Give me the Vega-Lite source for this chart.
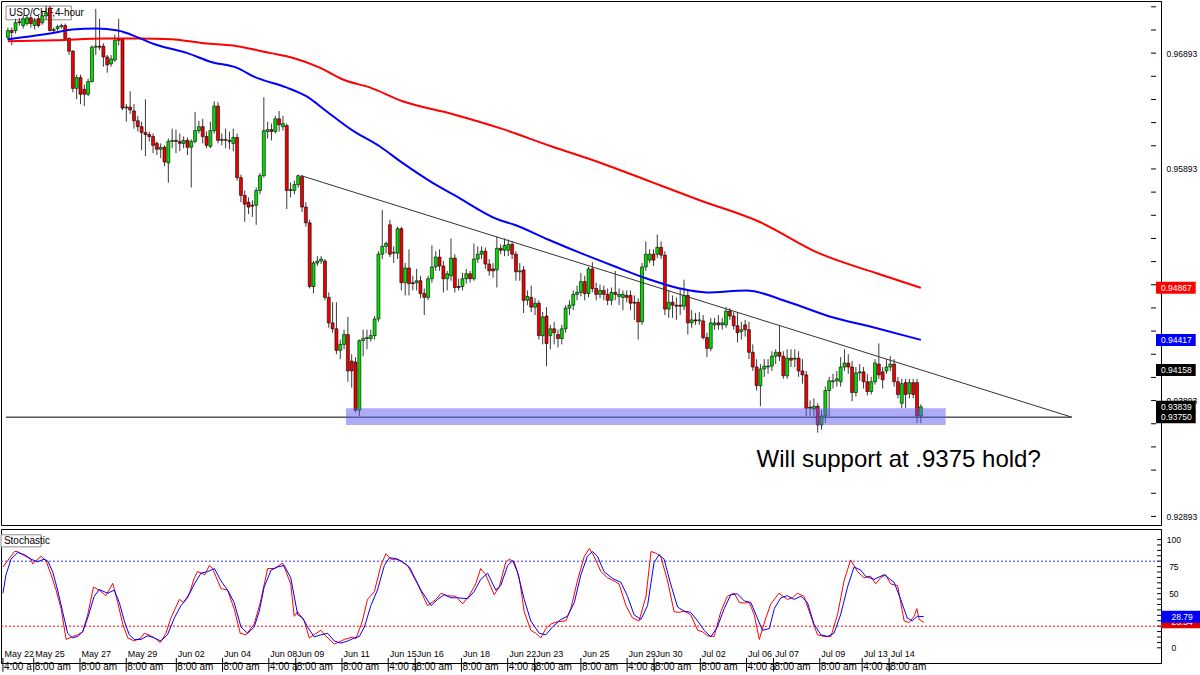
{
  "$schema": "https://vega.github.io/schema/vega-lite/v6.json",
  "description": "USD/CHF 4-hour candlestick chart with moving averages, trendline, support zone and stochastic panel",
  "padding": 0,
  "spacing": 2,
  "background": "#ffffff",
  "config": {
    "view": {"stroke": "#000000", "strokeWidth": 1},
    "font": "Liberation Sans",
    "axis": {"labelOverlap": false}
  },
  "datasets": {
    "candles": [
      {"i":0,"o":0.97029,"h":0.97114,"l":0.97004,"c":0.97088},
      {"i":1,"o":0.97088,"h":0.97114,"l":0.96961,"c":0.97071},
      {"i":2,"o":0.97088,"h":0.97190,"l":0.97063,"c":0.97156},
      {"i":3,"o":0.97164,"h":0.97198,"l":0.97131,"c":0.97156},
      {"i":4,"o":0.97131,"h":0.97215,"l":0.97105,"c":0.97190},
      {"i":5,"o":0.97148,"h":0.97224,"l":0.97131,"c":0.97198},
      {"i":6,"o":0.97198,"h":0.97215,"l":0.97114,"c":0.97148},
      {"i":7,"o":0.97131,"h":0.97198,"l":0.97097,"c":0.97173},
      {"i":8,"o":0.97190,"h":0.97215,"l":0.97114,"c":0.97131},
      {"i":9,"o":0.97156,"h":0.97249,"l":0.97139,"c":0.97215},
      {"i":10,"o":0.97215,"h":0.97300,"l":0.97181,"c":0.97241},
      {"i":11,"o":0.97283,"h":0.97300,"l":0.97080,"c":0.97088},
      {"i":12,"o":0.97088,"h":0.97114,"l":0.97071,"c":0.97097},
      {"i":13,"o":0.97105,"h":0.97139,"l":0.97088,"c":0.97122},
      {"i":14,"o":0.97122,"h":0.97148,"l":0.97105,"c":0.97131},
      {"i":15,"o":0.97131,"h":0.97148,"l":0.97004,"c":0.97020},
      {"i":16,"o":0.97020,"h":0.97029,"l":0.96877,"c":0.96910},
      {"i":17,"o":0.96910,"h":0.96919,"l":0.96555,"c":0.96589},
      {"i":18,"o":0.96589,"h":0.96707,"l":0.96495,"c":0.96682},
      {"i":19,"o":0.96682,"h":0.96707,"l":0.96453,"c":0.96538},
      {"i":20,"o":0.96580,"h":0.96622,"l":0.96436,"c":0.96538},
      {"i":21,"o":0.96538,"h":0.96673,"l":0.96521,"c":0.96648},
      {"i":22,"o":0.96648,"h":0.96961,"l":0.96639,"c":0.96944},
      {"i":23,"o":0.96944,"h":0.97275,"l":0.96877,"c":0.96953},
      {"i":24,"o":0.96953,"h":0.97190,"l":0.96919,"c":0.96944},
      {"i":25,"o":0.96953,"h":0.96978,"l":0.96775,"c":0.96860},
      {"i":26,"o":0.96860,"h":0.96877,"l":0.96724,"c":0.96792},
      {"i":27,"o":0.96800,"h":0.96877,"l":0.96775,"c":0.96843},
      {"i":28,"o":0.96834,"h":0.97054,"l":0.96817,"c":0.97004},
      {"i":29,"o":0.97012,"h":0.97190,"l":0.96961,"c":0.97004},
      {"i":30,"o":0.97012,"h":0.97020,"l":0.96402,"c":0.96419},
      {"i":31,"o":0.96419,"h":0.96453,"l":0.96301,"c":0.96428},
      {"i":32,"o":0.96428,"h":0.96563,"l":0.96368,"c":0.96402},
      {"i":33,"o":0.96394,"h":0.96453,"l":0.96241,"c":0.96309},
      {"i":34,"o":0.96309,"h":0.96351,"l":0.96216,"c":0.96258},
      {"i":35,"o":0.96258,"h":0.96301,"l":0.96055,"c":0.96207},
      {"i":36,"o":0.96207,"h":0.96495,"l":0.96004,"c":0.96190},
      {"i":37,"o":0.96190,"h":0.96216,"l":0.96131,"c":0.96173},
      {"i":38,"o":0.96173,"h":0.96199,"l":0.96030,"c":0.96097},
      {"i":39,"o":0.96114,"h":0.96131,"l":0.96013,"c":0.96063},
      {"i":40,"o":0.96063,"h":0.96114,"l":0.95987,"c":0.96080},
      {"i":41,"o":0.96080,"h":0.96097,"l":0.95919,"c":0.95953},
      {"i":42,"o":0.95945,"h":0.96157,"l":0.95775,"c":0.96131},
      {"i":43,"o":0.96131,"h":0.96241,"l":0.96072,"c":0.96140},
      {"i":44,"o":0.96140,"h":0.96233,"l":0.96030,"c":0.96131},
      {"i":45,"o":0.96131,"h":0.96199,"l":0.96046,"c":0.96114},
      {"i":46,"o":0.96114,"h":0.96173,"l":0.96072,"c":0.96140},
      {"i":47,"o":0.96140,"h":0.96165,"l":0.96013,"c":0.96080},
      {"i":48,"o":0.96080,"h":0.96148,"l":0.95733,"c":0.96131},
      {"i":49,"o":0.96131,"h":0.96385,"l":0.96114,"c":0.96224},
      {"i":50,"o":0.96224,"h":0.96309,"l":0.96199,"c":0.96258},
      {"i":51,"o":0.96258,"h":0.96326,"l":0.96114,"c":0.96173},
      {"i":52,"o":0.96173,"h":0.96216,"l":0.96072,"c":0.96097},
      {"i":53,"o":0.96088,"h":0.96301,"l":0.96072,"c":0.96224},
      {"i":54,"o":0.96224,"h":0.96478,"l":0.96199,"c":0.96436},
      {"i":55,"o":0.96436,"h":0.96470,"l":0.96114,"c":0.96140},
      {"i":56,"o":0.96148,"h":0.96199,"l":0.96097,"c":0.96140},
      {"i":57,"o":0.96140,"h":0.96241,"l":0.96072,"c":0.96148},
      {"i":58,"o":0.96140,"h":0.96216,"l":0.96063,"c":0.96131},
      {"i":59,"o":0.96114,"h":0.96241,"l":0.96046,"c":0.96165},
      {"i":60,"o":0.96165,"h":0.96199,"l":0.95792,"c":0.95818},
      {"i":61,"o":0.95818,"h":0.95843,"l":0.95606,"c":0.95665},
      {"i":62,"o":0.95665,"h":0.95707,"l":0.95437,"c":0.95589},
      {"i":63,"o":0.95606,"h":0.95648,"l":0.95504,"c":0.95564},
      {"i":64,"o":0.95580,"h":0.95623,"l":0.95479,"c":0.95572},
      {"i":65,"o":0.95580,"h":0.95733,"l":0.95411,"c":0.95707},
      {"i":66,"o":0.95707,"h":0.95860,"l":0.95674,"c":0.95835},
      {"i":67,"o":0.95835,"h":0.96512,"l":0.95818,"c":0.96224},
      {"i":68,"o":0.96216,"h":0.96301,"l":0.96157,"c":0.96233},
      {"i":69,"o":0.96233,"h":0.96284,"l":0.96140,"c":0.96216},
      {"i":70,"o":0.96216,"h":0.96351,"l":0.96199,"c":0.96326},
      {"i":71,"o":0.96326,"h":0.96394,"l":0.96216,"c":0.96275},
      {"i":72,"o":0.96258,"h":0.96351,"l":0.96224,"c":0.96284},
      {"i":73,"o":0.96267,"h":0.96284,"l":0.95547,"c":0.95707},
      {"i":74,"o":0.95707,"h":0.95775,"l":0.95648,"c":0.95716},
      {"i":75,"o":0.95707,"h":0.95792,"l":0.95674,"c":0.95758},
      {"i":76,"o":0.95758,"h":0.95843,"l":0.95733,"c":0.95835},
      {"i":77,"o":0.95826,"h":0.95843,"l":0.95521,"c":0.95564},
      {"i":78,"o":0.95564,"h":0.95606,"l":0.95394,"c":0.95428},
      {"i":79,"o":0.95428,"h":0.95454,"l":0.94861,"c":0.94878},
      {"i":80,"o":0.94878,"h":0.95098,"l":0.94818,"c":0.95081},
      {"i":81,"o":0.95081,"h":0.95140,"l":0.95055,"c":0.95098},
      {"i":82,"o":0.95098,"h":0.95140,"l":0.95072,"c":0.95115},
      {"i":83,"o":0.95098,"h":0.95115,"l":0.94759,"c":0.94784},
      {"i":84,"o":0.94784,"h":0.94827,"l":0.94522,"c":0.94564},
      {"i":85,"o":0.94564,"h":0.94742,"l":0.94479,"c":0.94513},
      {"i":86,"o":0.94513,"h":0.94742,"l":0.94293,"c":0.94327},
      {"i":87,"o":0.94327,"h":0.94420,"l":0.94251,"c":0.94378},
      {"i":88,"o":0.94378,"h":0.94505,"l":0.94336,"c":0.94463},
      {"i":89,"o":0.94463,"h":0.94615,"l":0.94056,"c":0.94149},
      {"i":90,"o":0.94234,"h":0.94293,"l":0.94005,"c":0.94149},
      {"i":91,"o":0.94225,"h":0.94268,"l":0.93793,"c":0.93810},
      {"i":92,"o":0.93810,"h":0.94420,"l":0.93760,"c":0.94412},
      {"i":93,"o":0.94412,"h":0.94505,"l":0.94276,"c":0.94429},
      {"i":94,"o":0.94429,"h":0.94505,"l":0.94336,"c":0.94437},
      {"i":95,"o":0.94429,"h":0.94505,"l":0.94403,"c":0.94454},
      {"i":96,"o":0.94454,"h":0.94623,"l":0.94420,"c":0.94598},
      {"i":97,"o":0.94598,"h":0.95183,"l":0.94573,"c":0.95157},
      {"i":98,"o":0.95157,"h":0.95538,"l":0.95115,"c":0.95225},
      {"i":99,"o":0.95225,"h":0.95267,"l":0.95166,"c":0.95250},
      {"i":100,"o":0.95411,"h":0.95454,"l":0.95132,"c":0.95157},
      {"i":101,"o":0.95166,"h":0.95225,"l":0.95081,"c":0.95174},
      {"i":102,"o":0.95166,"h":0.95394,"l":0.95115,"c":0.95377},
      {"i":103,"o":0.95377,"h":0.95394,"l":0.94844,"c":0.94911},
      {"i":104,"o":0.94911,"h":0.95081,"l":0.94801,"c":0.95038},
      {"i":105,"o":0.95038,"h":0.95199,"l":0.94801,"c":0.94903},
      {"i":106,"o":0.94911,"h":0.94971,"l":0.94844,"c":0.94903},
      {"i":107,"o":0.94911,"h":0.95030,"l":0.94844,"c":0.94928},
      {"i":108,"o":0.94928,"h":0.94971,"l":0.94776,"c":0.94818},
      {"i":109,"o":0.94818,"h":0.94861,"l":0.94632,"c":0.94784},
      {"i":110,"o":0.94784,"h":0.94971,"l":0.94759,"c":0.94945},
      {"i":111,"o":0.94945,"h":0.95233,"l":0.94911,"c":0.95047},
      {"i":112,"o":0.95047,"h":0.95183,"l":0.95013,"c":0.95132},
      {"i":113,"o":0.95132,"h":0.95199,"l":0.95013,"c":0.95055},
      {"i":114,"o":0.95055,"h":0.95098,"l":0.94827,"c":0.94945},
      {"i":115,"o":0.94945,"h":0.95013,"l":0.94844,"c":0.94988},
      {"i":116,"o":0.94971,"h":0.95293,"l":0.94928,"c":0.95123},
      {"i":117,"o":0.95123,"h":0.95157,"l":0.94827,"c":0.94869},
      {"i":118,"o":0.94878,"h":0.94945,"l":0.94844,"c":0.94869},
      {"i":119,"o":0.94878,"h":0.94996,"l":0.94844,"c":0.94945},
      {"i":120,"o":0.94945,"h":0.95030,"l":0.94903,"c":0.94988},
      {"i":121,"o":0.94988,"h":0.95013,"l":0.94911,"c":0.94945},
      {"i":122,"o":0.94945,"h":0.95250,"l":0.94928,"c":0.95115},
      {"i":123,"o":0.95115,"h":0.95225,"l":0.95081,"c":0.95157},
      {"i":124,"o":0.95157,"h":0.95225,"l":0.95115,"c":0.95183},
      {"i":125,"o":0.95183,"h":0.95216,"l":0.95030,"c":0.95072},
      {"i":126,"o":0.95072,"h":0.95115,"l":0.94971,"c":0.95013},
      {"i":127,"o":0.95030,"h":0.95081,"l":0.94954,"c":0.95013},
      {"i":128,"o":0.95021,"h":0.95310,"l":0.94869,"c":0.95208},
      {"i":129,"o":0.95208,"h":0.95242,"l":0.95157,"c":0.95191},
      {"i":130,"o":0.95191,"h":0.95293,"l":0.95140,"c":0.95233},
      {"i":131,"o":0.95191,"h":0.95284,"l":0.95140,"c":0.95242},
      {"i":132,"o":0.95242,"h":0.95267,"l":0.95115,"c":0.95157},
      {"i":133,"o":0.95157,"h":0.95183,"l":0.94928,"c":0.95005},
      {"i":134,"o":0.95005,"h":0.95081,"l":0.94928,"c":0.95013},
      {"i":135,"o":0.95021,"h":0.95055,"l":0.94649,"c":0.94759},
      {"i":136,"o":0.94759,"h":0.94844,"l":0.94717,"c":0.94793},
      {"i":137,"o":0.94784,"h":0.94886,"l":0.94657,"c":0.94700},
      {"i":138,"o":0.94700,"h":0.94776,"l":0.94632,"c":0.94734},
      {"i":139,"o":0.94734,"h":0.94759,"l":0.94420,"c":0.94454},
      {"i":140,"o":0.94454,"h":0.94657,"l":0.94378,"c":0.94615},
      {"i":141,"o":0.94623,"h":0.94700,"l":0.94191,"c":0.94386},
      {"i":142,"o":0.94454,"h":0.94547,"l":0.94336,"c":0.94513},
      {"i":143,"o":0.94513,"h":0.94573,"l":0.94378,"c":0.94479},
      {"i":144,"o":0.94463,"h":0.94505,"l":0.94352,"c":0.94429},
      {"i":145,"o":0.94429,"h":0.94547,"l":0.94378,"c":0.94513},
      {"i":146,"o":0.94513,"h":0.94717,"l":0.94479,"c":0.94691},
      {"i":147,"o":0.94691,"h":0.94759,"l":0.94632,"c":0.94717},
      {"i":148,"o":0.94717,"h":0.94844,"l":0.94674,"c":0.94810},
      {"i":149,"o":0.94810,"h":0.94886,"l":0.94759,"c":0.94827},
      {"i":150,"o":0.94827,"h":0.94996,"l":0.94793,"c":0.94920},
      {"i":151,"o":0.94920,"h":0.94971,"l":0.94759,"c":0.94818},
      {"i":152,"o":0.94818,"h":0.95047,"l":0.94784,"c":0.95030},
      {"i":153,"o":0.95030,"h":0.95089,"l":0.94827,"c":0.94861},
      {"i":154,"o":0.94861,"h":0.94911,"l":0.94759,"c":0.94810},
      {"i":155,"o":0.94810,"h":0.94895,"l":0.94776,"c":0.94844},
      {"i":156,"o":0.94844,"h":0.94886,"l":0.94759,"c":0.94810},
      {"i":157,"o":0.94810,"h":0.94861,"l":0.94717,"c":0.94759},
      {"i":158,"o":0.94759,"h":0.94869,"l":0.94717,"c":0.94827},
      {"i":159,"o":0.94827,"h":0.95013,"l":0.94759,"c":0.94810},
      {"i":160,"o":0.94793,"h":0.94861,"l":0.94717,"c":0.94810},
      {"i":161,"o":0.94784,"h":0.94844,"l":0.94674,"c":0.94810},
      {"i":162,"o":0.94801,"h":0.94844,"l":0.94742,"c":0.94784},
      {"i":163,"o":0.94801,"h":0.94844,"l":0.94674,"c":0.94734},
      {"i":164,"o":0.94742,"h":0.94801,"l":0.94590,"c":0.94734},
      {"i":165,"o":0.94742,"h":0.94776,"l":0.94420,"c":0.94573},
      {"i":166,"o":0.94573,"h":0.95081,"l":0.94547,"c":0.95047},
      {"i":167,"o":0.95047,"h":0.95267,"l":0.95013,"c":0.95157},
      {"i":168,"o":0.95106,"h":0.95199,"l":0.95081,"c":0.95157},
      {"i":169,"o":0.95157,"h":0.95199,"l":0.95055,"c":0.95106},
      {"i":170,"o":0.95157,"h":0.95327,"l":0.95123,"c":0.95216},
      {"i":171,"o":0.95216,"h":0.95267,"l":0.95115,"c":0.95149},
      {"i":172,"o":0.95149,"h":0.95183,"l":0.94632,"c":0.94683},
      {"i":173,"o":0.94683,"h":0.94844,"l":0.94607,"c":0.94742},
      {"i":174,"o":0.94742,"h":0.94801,"l":0.94607,"c":0.94717},
      {"i":175,"o":0.94717,"h":0.94784,"l":0.94590,"c":0.94708},
      {"i":176,"o":0.94717,"h":0.94861,"l":0.94632,"c":0.94708},
      {"i":177,"o":0.94708,"h":0.94937,"l":0.94674,"c":0.94801},
      {"i":178,"o":0.94801,"h":0.94844,"l":0.94463,"c":0.94564},
      {"i":179,"o":0.94564,"h":0.94674,"l":0.94522,"c":0.94590},
      {"i":180,"o":0.94590,"h":0.94649,"l":0.94547,"c":0.94581},
      {"i":181,"o":0.94581,"h":0.94657,"l":0.94547,"c":0.94590},
      {"i":182,"o":0.94581,"h":0.94632,"l":0.94420,"c":0.94437},
      {"i":183,"o":0.94437,"h":0.94479,"l":0.94268,"c":0.94344},
      {"i":184,"o":0.94344,"h":0.94607,"l":0.94319,"c":0.94564},
      {"i":185,"o":0.94547,"h":0.94607,"l":0.94505,"c":0.94564},
      {"i":186,"o":0.94564,"h":0.94632,"l":0.94505,"c":0.94547},
      {"i":187,"o":0.94547,"h":0.94607,"l":0.94505,"c":0.94564},
      {"i":188,"o":0.94547,"h":0.94700,"l":0.94522,"c":0.94666},
      {"i":189,"o":0.94666,"h":0.94691,"l":0.94590,"c":0.94623},
      {"i":190,"o":0.94623,"h":0.94657,"l":0.94505,"c":0.94539},
      {"i":191,"o":0.94539,"h":0.94657,"l":0.94395,"c":0.94479},
      {"i":192,"o":0.94488,"h":0.94573,"l":0.94420,"c":0.94505},
      {"i":193,"o":0.94547,"h":0.94590,"l":0.94446,"c":0.94505},
      {"i":194,"o":0.94505,"h":0.94573,"l":0.94251,"c":0.94310},
      {"i":195,"o":0.94310,"h":0.94378,"l":0.94149,"c":0.94183},
      {"i":196,"o":0.94183,"h":0.94251,"l":0.93980,"c":0.94022},
      {"i":197,"o":0.94022,"h":0.94208,"l":0.93844,"c":0.94166},
      {"i":198,"o":0.94166,"h":0.94251,"l":0.94098,"c":0.94191},
      {"i":199,"o":0.94183,"h":0.94251,"l":0.94124,"c":0.94191},
      {"i":200,"o":0.94191,"h":0.94319,"l":0.94149,"c":0.94276},
      {"i":201,"o":0.94276,"h":0.94336,"l":0.94208,"c":0.94310},
      {"i":202,"o":0.94310,"h":0.94539,"l":0.94234,"c":0.94276},
      {"i":203,"o":0.94276,"h":0.94319,"l":0.94081,"c":0.94107},
      {"i":204,"o":0.94107,"h":0.94336,"l":0.94081,"c":0.94259},
      {"i":205,"o":0.94259,"h":0.94336,"l":0.94183,"c":0.94242},
      {"i":206,"o":0.94251,"h":0.94336,"l":0.94183,"c":0.94259},
      {"i":207,"o":0.94259,"h":0.94319,"l":0.94098,"c":0.94149},
      {"i":208,"o":0.94149,"h":0.94251,"l":0.94039,"c":0.94115},
      {"i":209,"o":0.94115,"h":0.94149,"l":0.93760,"c":0.93827},
      {"i":210,"o":0.93836,"h":0.93895,"l":0.93760,"c":0.93827},
      {"i":211,"o":0.93819,"h":0.93912,"l":0.93760,"c":0.93844},
      {"i":212,"o":0.93844,"h":0.93870,"l":0.93616,"c":0.93683},
      {"i":213,"o":0.93683,"h":0.93810,"l":0.93641,"c":0.93760},
      {"i":214,"o":0.93760,"h":0.94014,"l":0.93700,"c":0.93980},
      {"i":215,"o":0.93980,"h":0.94098,"l":0.93760,"c":0.94064},
      {"i":216,"o":0.94056,"h":0.94124,"l":0.93997,"c":0.94064},
      {"i":217,"o":0.94064,"h":0.94149,"l":0.94014,"c":0.94081},
      {"i":218,"o":0.94056,"h":0.94268,"l":0.94014,"c":0.94183},
      {"i":219,"o":0.94183,"h":0.94336,"l":0.94149,"c":0.94217},
      {"i":220,"o":0.94217,"h":0.94293,"l":0.94124,"c":0.94183},
      {"i":221,"o":0.94183,"h":0.94234,"l":0.93887,"c":0.93963},
      {"i":222,"o":0.93963,"h":0.94183,"l":0.93929,"c":0.94132},
      {"i":223,"o":0.94132,"h":0.94208,"l":0.94064,"c":0.94141},
      {"i":224,"o":0.94141,"h":0.94183,"l":0.93997,"c":0.94056},
      {"i":225,"o":0.94056,"h":0.94124,"l":0.93937,"c":0.93971},
      {"i":226,"o":0.93971,"h":0.94098,"l":0.93946,"c":0.94056},
      {"i":227,"o":0.94056,"h":0.94251,"l":0.94031,"c":0.94217},
      {"i":228,"o":0.94208,"h":0.94386,"l":0.94081,"c":0.94115},
      {"i":229,"o":0.94141,"h":0.94183,"l":0.93997,"c":0.94073},
      {"i":230,"o":0.94149,"h":0.94251,"l":0.94124,"c":0.94183},
      {"i":231,"o":0.94183,"h":0.94276,"l":0.94149,"c":0.94208},
      {"i":232,"o":0.94208,"h":0.94251,"l":0.94014,"c":0.94056},
      {"i":233,"o":0.94056,"h":0.94098,"l":0.93912,"c":0.93946},
      {"i":234,"o":0.93870,"h":0.94081,"l":0.93827,"c":0.94039},
      {"i":235,"o":0.94048,"h":0.94081,"l":0.93827,"c":0.93946},
      {"i":236,"o":0.93954,"h":0.94081,"l":0.93912,"c":0.94048},
      {"i":237,"o":0.94048,"h":0.94081,"l":0.93912,"c":0.93946},
      {"i":238,"o":0.94048,"h":0.94081,"l":0.93700,"c":0.93760},
      {"i":239,"o":0.93760,"h":0.93861,"l":0.93700,"c":0.93839}
    ],
    "maRed": [
      {"i":0,"p":0.96995},{"i":12.5,"p":0.97004},{"i":25.4,"p":0.97020},{"i":34,"p":0.97020},
      {"i":42.8,"p":0.97012},{"i":51.4,"p":0.96978},{"i":60,"p":0.96953},{"i":68.8,"p":0.96893},
      {"i":74.7,"p":0.96851},{"i":81.8,"p":0.96766},{"i":87.7,"p":0.96665},{"i":94.7,"p":0.96597},
      {"i":103.3,"p":0.96478},{"i":116.3,"p":0.96368},{"i":129.2,"p":0.96241},{"i":142.2,"p":0.96089},
      {"i":155.2,"p":0.95945},{"i":168.2,"p":0.95784},{"i":181.1,"p":0.95623},{"i":196.7,"p":0.95437},
      {"i":212.3,"p":0.95166},{"i":227.8,"p":0.94988},{"i":239,"p":0.94867}
    ],
    "maBlue": [
      {"i":0,"p":0.97012},{"i":12.5,"p":0.97071},{"i":16.9,"p":0.97097},{"i":22.9,"p":0.97105},
      {"i":28.8,"p":0.97088},{"i":34,"p":0.97029},{"i":38.4,"p":0.96970},{"i":47,"p":0.96893},
      {"i":53.2,"p":0.96817},{"i":60,"p":0.96766},{"i":64.4,"p":0.96690},{"i":72.9,"p":0.96597},
      {"i":78.1,"p":0.96521},{"i":83.3,"p":0.96394},{"i":90.3,"p":0.96224},{"i":97.3,"p":0.96089},
      {"i":103.3,"p":0.95945},{"i":111.1,"p":0.95775},{"i":117,"p":0.95665},{"i":128.5,"p":0.95454},
      {"i":132.6,"p":0.95411},{"i":141.4,"p":0.95284},{"i":150,"p":0.95166},{"i":158.6,"p":0.95055},
      {"i":167.4,"p":0.94945},{"i":175.9,"p":0.94861},{"i":183,"p":0.94827},{"i":193.3,"p":0.94844},
      {"i":204.5,"p":0.94742},{"i":215.6,"p":0.94615},{"i":226,"p":0.94530},{"i":239,"p":0.94417}
    ],
    "trend": [{"i":76.8,"p":0.95835},{"i":278.5,"p":0.9375}],
    "support": [{"i":-0.5,"p":0.9375},{"i":278.5,"p":0.9375}],
    "zone": [{"i1":88.5,"i2":245.5,"p1":0.93827,"p2":0.93683}],
    "priceTicks": [
      {"p":0.92893},{"p":0.93093},{"p":0.93293},{"p":0.93493},{"p":0.93693},{"p":0.93893},{"p":0.94093},{"p":0.94293},
      {"p":0.94493},{"p":0.94693},{"p":0.94893},{"p":0.95093},{"p":0.95293},{"p":0.95493},{"p":0.95693},{"p":0.95893},
      {"p":0.96093},{"p":0.96293},{"p":0.96493},{"p":0.96693},{"p":0.96893},{"p":0.97093},{"p":0.97293}
    ],
    "stochTicks": [
      {"v":0},{"v":5},{"v":10},{"v":15},{"v":20},{"v":25},{"v":30},{"v":35},{"v":40},{"v":45},{"v":50},
      {"v":55},{"v":60},{"v":65},{"v":70},{"v":75},{"v":80},{"v":85},{"v":90},{"v":95},{"v":100}
    ],
    "stochLabels": [{"v":0,"t":"0"},{"v":50,"t":"50"},{"v":75,"t":"75"},{"v":100,"t":"100"}],
    "tagsMain": [
      {"p":0.94867,"t":"0.94867","k":"r"},
      {"p":0.94417,"t":"0.94417","k":"b"},
      {"p":0.94158,"t":"0.94158","k":"k"},
      {"p":0.93839,"t":"0.93839","k":"k"},
      {"p":0.9375,"t":"0.93750","k":"k"}
    ],
    "tagsStoch": [
      {"v":23.54,"t":"23.54","k":"r"},
      {"v":28.79,"t":"28.79","k":"b"}
    ],
    "stochK": [
      {"i":0,"v":74.6},{"i":3,"v":88.9},{"i":3.8,"v":88.9},{"i":5.1,"v":86},{"i":7.3,"v":81.8},{"i":7.7,"v":77.5},
      {"i":9.9,"v":84.6},{"i":11.2,"v":80.3},{"i":12.5,"v":67.5},{"i":13.8,"v":53.3},{"i":15.1,"v":36.2},{"i":16.4,"v":7.7},
      {"i":18.1,"v":10.5},{"i":19.4,"v":12},{"i":20.7,"v":14.8},{"i":22,"v":30.5},{"i":23.5,"v":56.1},{"i":25,"v":53.3},
      {"i":26.7,"v":48.1},{"i":28.5,"v":59.5},{"i":29.8,"v":41.9},{"i":31.1,"v":21.9},{"i":32.4,"v":9.1},{"i":34.1,"v":6.3},
      {"i":35.8,"v":9.1},{"i":36.7,"v":13.4},{"i":38.4,"v":11.1},{"i":39.7,"v":8.3},{"i":40.8,"v":4.8},{"i":42.3,"v":13.4},
      {"i":43.6,"v":27.6},{"i":45.8,"v":44.7},{"i":46.9,"v":41.9},{"i":48.4,"v":50.4},{"i":49.7,"v":64.7},{"i":50.5,"v":70.4},
      {"i":52.4,"v":67.5},{"i":53.6,"v":76.1},{"i":54.4,"v":73.2},{"i":56.6,"v":54.7},{"i":58.3,"v":53.3},{"i":60,"v":36.2},
      {"i":61.6,"v":13.4},{"i":63.1,"v":12},{"i":65.2,"v":21.9},{"i":66.8,"v":41.9},{"i":68.7,"v":73.2},{"i":70.4,"v":73.2},
      {"i":72.6,"v":78.3},{"i":74.7,"v":59},{"i":75.6,"v":29.1},{"i":76.5,"v":33.3},{"i":78.2,"v":24.8},{"i":79.5,"v":9.1},
      {"i":82.5,"v":16.2},{"i":83.8,"v":11.1},{"i":86,"v":3.4},{"i":86.9,"v":4.8},{"i":88.6,"v":7.7},{"i":90.7,"v":10},
      {"i":91.6,"v":8.3},{"i":93.3,"v":24.8},{"i":94.6,"v":44.7},{"i":96.4,"v":51.9},{"i":98.1,"v":76.1},{"i":99.4,"v":86.9},
      {"i":100.7,"v":81.8},{"i":102.4,"v":81.8},{"i":105,"v":76.1},{"i":107.6,"v":59},{"i":110.2,"v":39},{"i":112.4,"v":44.7},
      {"i":113.7,"v":50.4},{"i":115.4,"v":48.1},{"i":117.6,"v":47.6},{"i":119.3,"v":40.5},{"i":121,"v":48.1},{"i":122.7,"v":59},
      {"i":124,"v":73.2},{"i":125.3,"v":67.5},{"i":127.5,"v":49},{"i":128.8,"v":56.1},{"i":130.5,"v":78.9},{"i":131.4,"v":81.8},
      {"i":132.7,"v":79.5},{"i":134,"v":64.7},{"i":135.3,"v":33.3},{"i":137,"v":16.2},{"i":138.3,"v":13.4},{"i":139.6,"v":9.1},
      {"i":140.9,"v":17.7},{"i":142.2,"v":21.9},{"i":143.9,"v":24.2},{"i":146.1,"v":24.8},{"i":147.4,"v":36.2},{"i":149.1,"v":61.8},
      {"i":150.9,"v":84.6},{"i":152.2,"v":91.7},{"i":153.4,"v":84.6},{"i":155.2,"v":70.4},{"i":156.9,"v":64.7},{"i":158.6,"v":61.8},
      {"i":159.9,"v":59},{"i":161.7,"v":39},{"i":163.4,"v":27.6},{"i":165.1,"v":24.8},{"i":166.9,"v":47.6},{"i":168.2,"v":88.9},
      {"i":169.4,"v":87.5},{"i":170.7,"v":84.6},{"i":172.5,"v":61.8},{"i":174.2,"v":33.3},{"i":175.5,"v":32.8},{"i":176.8,"v":33.9},
      {"i":178.5,"v":30.5},{"i":180.3,"v":16.2},{"i":181.6,"v":14.8},{"i":182.9,"v":11.1},{"i":184.6,"v":10.5},{"i":186.3,"v":33.3},
      {"i":188,"v":47.6},{"i":189.8,"v":50.4},{"i":191.1,"v":41.9},{"i":192.4,"v":41.3},{"i":193.7,"v":41.9},{"i":195,"v":30.5},
      {"i":196.3,"v":7.7},{"i":198,"v":27.6},{"i":199.3,"v":40.5},{"i":201.4,"v":50.4},{"i":203.6,"v":44.7},{"i":204.9,"v":46.2},
      {"i":206.2,"v":50.4},{"i":207.9,"v":47.6},{"i":209.7,"v":29.1},{"i":211.4,"v":12},{"i":213.1,"v":10.5},{"i":214.9,"v":10.5},
      {"i":216.6,"v":30.5},{"i":218.3,"v":61.8},{"i":220,"v":81.2},{"i":221.8,"v":70.4},{"i":223.5,"v":64.7},{"i":225.2,"v":66.1},
      {"i":226.5,"v":59},{"i":227.8,"v":64.7},{"i":229.1,"v":67.5},{"i":230.4,"v":59},{"i":232.2,"v":57.5},{"i":233.9,"v":24.8},
      {"i":235.2,"v":23.4},{"i":236.5,"v":29.1},{"i":237.2,"v":36.2},{"i":237.8,"v":26.2},{"i":239,"v":23.5}
    ],
    "stochD": [
      {"i":0,"v":50.4},{"i":0.8,"v":67.5},{"i":2.1,"v":81.8},{"i":3.8,"v":88},{"i":5.6,"v":86},{"i":7.3,"v":81.8},
      {"i":9,"v":79.5},{"i":10.7,"v":81.8},{"i":11.6,"v":80.3},{"i":12.9,"v":70.4},{"i":14.2,"v":53.3},{"i":15.5,"v":33.3},
      {"i":16.8,"v":13.4},{"i":18.1,"v":9.1},{"i":19.4,"v":10.5},{"i":20.7,"v":14.8},{"i":22,"v":27.6},{"i":23.7,"v":47.6},
      {"i":25,"v":53.8},{"i":27.2,"v":50.4},{"i":28.9,"v":53.3},{"i":30.2,"v":41.9},{"i":31.5,"v":24.8},{"i":32.8,"v":12},
      {"i":34.1,"v":7.7},{"i":35.8,"v":7.7},{"i":37.6,"v":11.1},{"i":39.3,"v":9.1},{"i":41,"v":6.3},{"i":42.7,"v":12},
      {"i":44.5,"v":27.6},{"i":46.2,"v":39},{"i":47.9,"v":46.2},{"i":49.7,"v":59},{"i":51.4,"v":68.9},{"i":53.1,"v":70.4},
      {"i":54.9,"v":73.2},{"i":56.6,"v":61.8},{"i":58.3,"v":53.3},{"i":60,"v":41.9},{"i":61.8,"v":19.1},{"i":63.5,"v":13.4},
      {"i":65.2,"v":19.1},{"i":66.5,"v":33.3},{"i":67.8,"v":56.1},{"i":69.6,"v":71.8},{"i":71.3,"v":74.6},{"i":73,"v":76.1},
      {"i":74.7,"v":64.7},{"i":76.5,"v":30.5},{"i":77.8,"v":27.6},{"i":79.1,"v":19.1},{"i":80.8,"v":10},{"i":82.5,"v":12},
      {"i":84.3,"v":13.4},{"i":86,"v":6.3},{"i":87.7,"v":4.3},{"i":89.5,"v":6.3},{"i":91.2,"v":9.1},{"i":92.5,"v":10.5},
      {"i":93.8,"v":19.1},{"i":95.5,"v":39},{"i":97.2,"v":53.3},{"i":99,"v":76.1},{"i":100.3,"v":83.2},{"i":102,"v":82.3},
      {"i":103.3,"v":80.3},{"i":105.5,"v":74.6},{"i":108.5,"v":53.3},{"i":111.1,"v":39},{"i":112.8,"v":44.7},{"i":114.5,"v":49},
      {"i":116.3,"v":46.2},{"i":118,"v":46.2},{"i":120.6,"v":45.3},{"i":122.3,"v":51.9},{"i":124,"v":63.2},{"i":125.8,"v":68.9},
      {"i":127.9,"v":53.3},{"i":129.2,"v":57.5},{"i":131,"v":76.1},{"i":132.3,"v":80.3},{"i":133.5,"v":70.4},{"i":135.3,"v":44.7},
      {"i":137,"v":24.8},{"i":139.2,"v":13.4},{"i":140.9,"v":12},{"i":142.6,"v":19.1},{"i":144.8,"v":26.2},{"i":146.5,"v":29.1},
      {"i":148.3,"v":41.9},{"i":150,"v":67.5},{"i":151.7,"v":84.6},{"i":153,"v":88.9},{"i":154.3,"v":84.6},{"i":156,"v":70.4},
      {"i":158.2,"v":64.1},{"i":160.4,"v":60.4},{"i":162.1,"v":47.6},{"i":163.8,"v":30.5},{"i":165.6,"v":26.2},{"i":167.3,"v":39},
      {"i":169,"v":78.9},{"i":170.3,"v":86},{"i":171.6,"v":81.8},{"i":173.3,"v":59},{"i":175.1,"v":37.6},{"i":176.8,"v":33.9},
      {"i":178.5,"v":32.8},{"i":180.3,"v":24.8},{"i":182,"v":16.2},{"i":183.7,"v":10},{"i":185.4,"v":19.1},{"i":187.2,"v":36.2},
      {"i":188.9,"v":49},{"i":190.6,"v":49.9},{"i":192.4,"v":43.3},{"i":194.1,"v":41.9},{"i":195.8,"v":27.6},{"i":197.1,"v":16.2},
      {"i":198.9,"v":17.7},{"i":200.2,"v":36.2},{"i":201.9,"v":46.2},{"i":203.6,"v":48.1},{"i":205.3,"v":44.7},{"i":207.1,"v":47.6},
      {"i":208.8,"v":41.9},{"i":210.5,"v":21.9},{"i":212.3,"v":12},{"i":214,"v":10.5},{"i":215.7,"v":13.4},{"i":217.4,"v":30.5},
      {"i":219.2,"v":56.1},{"i":220.9,"v":74.6},{"i":222.6,"v":71.8},{"i":223.9,"v":66.1},{"i":226.1,"v":63.2},{"i":228.7,"v":67.5},
      {"i":231.3,"v":60.4},{"i":233,"v":44.7},{"i":234.7,"v":27.6},{"i":236,"v":24.8},{"i":237.3,"v":29.1},{"i":239,"v":28.79}
    ],
    "timeLabels": [
      {"i":0,"d":"May 22","t":"4:00 am"},{"i":8,"d":"May 25","t":"8:00 am"},{"i":20,"d":"May 27","t":"8:00 am"},
      {"i":32,"d":"May 29","t":"8:00 am"},{"i":45,"d":"Jun 02","t":"8:00 am"},{"i":57,"d":"Jun 04","t":"8:00 am"},
      {"i":69,"d":"Jun 08","t":"4:00 am"},{"i":76,"d":"Jun 09","t":"8:00 am"},{"i":88,"d":"Jun 11","t":"8:00 am"},
      {"i":100,"d":"Jun 15","t":"4:00 am"},{"i":107,"d":"Jun 16","t":"8:00 am"},{"i":119,"d":"Jun 18","t":"8:00 am"},
      {"i":131,"d":"Jun 22","t":"4:00 am"},{"i":138,"d":"Jun 23","t":"8:00 am"},{"i":150,"d":"Jun 25","t":"8:00 am"},
      {"i":162,"d":"Jun 29","t":"4:00 am"},{"i":169,"d":"Jun 30","t":"8:00 am"},{"i":181,"d":"Jul 02","t":"8:00 am"},
      {"i":193,"d":"Jul 06","t":"4:00 am"},{"i":200,"d":"Jul 07","t":"8:00 am"},{"i":212,"d":"Jul 09","t":"8:00 am"},
      {"i":223,"d":"Jul 13","t":"4:00 am"},{"i":230,"d":"Jul 14","t":"8:00 am"}
    ]
  },
  "vconcat": [
    {
      "width": 1160,
      "height": 524,
      "layer": [
        {
          "data": {"values": [{}]},
          "mark": {"type": "rect", "fill": "#ffffff", "stroke": "#8c8c8c", "strokeWidth": 1},
          "encoding": {
            "x": {"datum": -0.5, "type": "quantitative", "scale": {"domain": [-0.5, 300.56], "nice": false, "zero": false}, "axis": null},
            "x2": {"datum": 16.6},
            "y": {
              "datum": 0.973, "type": "quantitative",
              "scale": {"domain": [0.92862, 0.973], "nice": false, "zero": false},
              "axis": {
                "orient": "right", "title": null, "grid": false,
                "values": [0.92893, 0.93893, 0.95893, 0.96893],
                "format": ".5f",
                "ticks": false, "domainColor": "#000000",
                "labelFontSize": 8.5, "labelColor": "#000000", "labelPadding": 5, "labelFont": "Liberation Sans",
                "labelOverlap": false, "labelBound": false, "labelFlush": false
              }
            },
            "y2": {"datum": 0.97181}
          }
        },
        {
          "data": {"values": [{}]},
          "mark": {"type": "text", "text": "USD/CHF,4-hour", "align": "left", "baseline": "middle", "fontSize": 10, "color": "#000000", "dx": 1},
          "encoding": {
            "x": {"datum": 0, "type": "quantitative", "scale": {"domain": [-0.5, 300.56], "nice": false, "zero": false}, "axis": null},
            "y": {"datum": 0.97241, "type": "quantitative", "scale": {"domain": [0.92862, 0.973], "nice": false, "zero": false}}
          }
        },
        {
          "data": {"name": "priceTicks"},
          "mark": {"type": "rule", "color": "#000000", "strokeWidth": 1},
          "encoding": {
            "x": {"datum": 299.27, "type": "quantitative", "scale": {"domain": [-0.5, 300.56], "nice": false, "zero": false}, "axis": null},
            "x2": {"datum": 300.56},
            "y": {"field": "p", "type": "quantitative", "scale": {"domain": [0.92862, 0.973], "nice": false, "zero": false}}
          }
        },
        {
          "data": {"name": "support"},
          "mark": {"type": "line", "color": "#000000", "strokeWidth": 1},
          "encoding": {
            "x": {"field": "i", "type": "quantitative", "scale": {"domain": [-0.5, 300.56], "nice": false, "zero": false}, "axis": null},
            "y": {"field": "p", "type": "quantitative", "scale": {"domain": [0.92862, 0.973], "nice": false, "zero": false}}
          }
        },
        {
          "data": {"name": "candles"},
          "mark": {"type": "rule", "color": "#3a3a3a", "strokeWidth": 1},
          "encoding": {
            "x": {"field": "i", "type": "quantitative", "scale": {"domain": [-0.5, 300.56], "nice": false, "zero": false}, "axis": null},
            "y": {"field": "l", "type": "quantitative", "scale": {"domain": [0.92862, 0.973], "nice": false, "zero": false}},
            "y2": {"field": "h"}
          }
        },
        {
          "data": {"name": "candles"},
          "mark": {"type": "bar", "width": 3, "stroke": "#000000", "strokeWidth": 0.6},
          "encoding": {
            "x": {"field": "i", "type": "quantitative", "scale": {"domain": [-0.5, 300.56], "nice": false, "zero": false}, "axis": null},
            "y": {"field": "o", "type": "quantitative", "scale": {"domain": [0.92862, 0.973], "nice": false, "zero": false}},
            "y2": {"field": "c"},
            "color": {"condition": {"test": "datum.c >= datum.o", "value": "#00e000"}, "value": "#f00000"}
          }
        },
        {
          "data": {"name": "trend"},
          "mark": {"type": "line", "color": "#333333", "strokeWidth": 1},
          "encoding": {
            "x": {"field": "i", "type": "quantitative", "scale": {"domain": [-0.5, 300.56], "nice": false, "zero": false}, "axis": null},
            "y": {"field": "p", "type": "quantitative", "scale": {"domain": [0.92862, 0.973], "nice": false, "zero": false}}
          }
        },
        {
          "data": {"name": "maRed"},
          "mark": {"type": "line", "color": "#ff0000", "strokeWidth": 2, "interpolate": "monotone"},
          "encoding": {
            "x": {"field": "i", "type": "quantitative", "scale": {"domain": [-0.5, 300.56], "nice": false, "zero": false}, "axis": null},
            "y": {"field": "p", "type": "quantitative", "scale": {"domain": [0.92862, 0.973], "nice": false, "zero": false}}
          }
        },
        {
          "data": {"name": "maBlue"},
          "mark": {"type": "line", "color": "#0000ff", "strokeWidth": 2, "interpolate": "monotone"},
          "encoding": {
            "x": {"field": "i", "type": "quantitative", "scale": {"domain": [-0.5, 300.56], "nice": false, "zero": false}, "axis": null},
            "y": {"field": "p", "type": "quantitative", "scale": {"domain": [0.92862, 0.973], "nice": false, "zero": false}}
          }
        },
        {
          "data": {"name": "zone"},
          "mark": {"type": "rect", "fill": "#5c5cf0", "fillOpacity": 0.5},
          "encoding": {
            "x": {"field": "i1", "type": "quantitative", "scale": {"domain": [-0.5, 300.56], "nice": false, "zero": false}, "axis": null},
            "x2": {"field": "i2"},
            "y": {"field": "p1", "type": "quantitative", "scale": {"domain": [0.92862, 0.973], "nice": false, "zero": false}},
            "y2": {"field": "p2"}
          }
        },
        {
          "data": {"values": [{}]},
          "mark": {"type": "text", "text": "Will support at .9375 hold?", "align": "left", "baseline": "middle", "fontSize": 24, "color": "#000000", "font": "Liberation Sans"},
          "encoding": {
            "x": {"datum": 196, "type": "quantitative", "scale": {"domain": [-0.5, 300.56], "nice": false, "zero": false}, "axis": null},
            "y": {"datum": 0.93378, "type": "quantitative", "scale": {"domain": [0.92862, 0.973], "nice": false, "zero": false}}
          }
        },
        {
          "data": {"name": "tagsMain"},
          "mark": {"type": "bar", "height": 12},
          "encoding": {
            "x": {"datum": 300.56, "type": "quantitative", "scale": {"domain": [-0.5, 300.56], "nice": false, "zero": false}, "axis": null},
            "x2": {"datum": 310.95},
            "y": {"field": "p", "type": "quantitative", "scale": {"domain": [0.92862, 0.973], "nice": false, "zero": false}},
            "color": {"condition": [{"test": "datum.k == 'r'", "value": "#ff0000"}, {"test": "datum.k == 'b'", "value": "#0000ff"}], "value": "#000000"}
          }
        },
        {
          "data": {"name": "tagsMain"},
          "mark": {"type": "text", "align": "left", "baseline": "middle", "fontSize": 8.5, "color": "#ffffff"},
          "encoding": {
            "x": {"datum": 301.86, "type": "quantitative", "scale": {"domain": [-0.5, 300.56], "nice": false, "zero": false}, "axis": null},
            "y": {"field": "p", "type": "quantitative", "scale": {"domain": [0.92862, 0.973], "nice": false, "zero": false}},
            "text": {"field": "t"}
          }
        }
      ]
    },
    {
      "width": 1160,
      "height": 134,
      "layer": [
        {
          "data": {"values": [{}]},
          "mark": {"type": "rect", "fill": "#ffffff", "stroke": "#8c8c8c", "strokeWidth": 1},
          "encoding": {
            "x": {"datum": -0.5, "type": "quantitative", "scale": {"domain": [-0.5, 300.56], "nice": false, "zero": false}, "axis": null},
            "x2": {"datum": 9.9},
            "y": {
              "datum": 104.4, "type": "quantitative",
              "scale": {"domain": [-9.4, 105.1], "nice": false, "zero": false},
              "axis": {
                "orient": "right", "title": null, "grid": false,
                "values": [0, 50, 100], "labels": false,
                "ticks": false, "domainColor": "#000000"
              }
            },
            "y2": {"datum": 93.2}
          }
        },
        {
          "data": {"values": [{}]},
          "mark": {"type": "text", "text": "Stochastic", "align": "left", "baseline": "middle", "fontSize": 10, "color": "#000000", "dx": 1},
          "encoding": {
            "x": {"datum": 0, "type": "quantitative", "scale": {"domain": [-0.5, 300.56], "nice": false, "zero": false}, "axis": null},
            "y": {"datum": 98.8, "type": "quantitative", "scale": {"domain": [-9.4, 105.1], "nice": false, "zero": false}}
          }
        },
        {
          "data": {"name": "stochTicks"},
          "mark": {"type": "rule", "color": "#000000", "strokeWidth": 1},
          "encoding": {
            "x": {"datum": 299.54, "type": "quantitative", "scale": {"domain": [-0.5, 300.56], "nice": false, "zero": false}, "axis": null},
            "x2": {"datum": 300.56},
            "y": {"field": "v", "type": "quantitative", "scale": {"domain": [-9.4, 105.1], "nice": false, "zero": false}}
          }
        },
        {
          "data": {"name": "stochLabels"},
          "mark": {"type": "text", "align": "center", "baseline": "middle", "fontSize": 8.5, "color": "#000000"},
          "encoding": {
            "x": {"datum": 303.9, "type": "quantitative", "scale": {"domain": [-0.5, 300.56], "nice": false, "zero": false}, "axis": null},
            "y": {"field": "v", "type": "quantitative", "scale": {"domain": [-9.4, 105.1], "nice": false, "zero": false}},
            "text": {"field": "t"}
          }
        },
        {
          "data": {"values": [{}]},
          "mark": {"type": "rule", "color": "#3030ff", "strokeWidth": 1, "strokeDash": [2, 2]},
          "encoding": {
            "x": {"datum": -0.5, "type": "quantitative", "scale": {"domain": [-0.5, 300.56], "nice": false, "zero": false}, "axis": null},
            "x2": {"datum": 300.56},
            "y": {"datum": 80, "type": "quantitative", "scale": {"domain": [-9.4, 105.1], "nice": false, "zero": false}}
          }
        },
        {
          "data": {"values": [{}]},
          "mark": {"type": "rule", "color": "#ff0000", "strokeWidth": 1, "strokeDash": [2, 2]},
          "encoding": {
            "x": {"datum": -0.5, "type": "quantitative", "scale": {"domain": [-0.5, 300.56], "nice": false, "zero": false}, "axis": null},
            "x2": {"datum": 300.56},
            "y": {"datum": 20, "type": "quantitative", "scale": {"domain": [-9.4, 105.1], "nice": false, "zero": false}}
          }
        },
        {
          "data": {"name": "stochK"},
          "mark": {"type": "line", "color": "#ff0000", "strokeWidth": 1},
          "encoding": {
            "x": {"field": "i", "type": "quantitative", "scale": {"domain": [-0.5, 300.56], "nice": false, "zero": false}, "axis": null},
            "y": {"field": "v", "type": "quantitative", "scale": {"domain": [-9.4, 105.1], "nice": false, "zero": false}}
          }
        },
        {
          "data": {"name": "stochD"},
          "mark": {"type": "line", "color": "#0000ff", "strokeWidth": 1},
          "encoding": {
            "x": {"field": "i", "type": "quantitative", "scale": {"domain": [-0.5, 300.56], "nice": false, "zero": false}, "axis": null},
            "y": {"field": "v", "type": "quantitative", "scale": {"domain": [-9.4, 105.1], "nice": false, "zero": false}}
          }
        },
        {
          "data": {"name": "tagsStoch"},
          "transform": [{"filter": "datum.k == 'r'"}],
          "mark": {"type": "bar", "height": 12, "color": "#e00000"},
          "encoding": {
            "x": {"datum": 300.56, "type": "quantitative", "scale": {"domain": [-0.5, 300.56], "nice": false, "zero": false}, "axis": null},
            "x2": {"datum": 310.95},
            "y": {"field": "v", "type": "quantitative", "scale": {"domain": [-9.4, 105.1], "nice": false, "zero": false}}
          }
        },
        {
          "data": {"name": "tagsStoch"},
          "transform": [{"filter": "datum.k == 'r'"}],
          "mark": {"type": "text", "align": "left", "baseline": "middle", "fontSize": 8.5, "color": "#ffffff"},
          "encoding": {
            "x": {"datum": 303.3, "type": "quantitative", "scale": {"domain": [-0.5, 300.56], "nice": false, "zero": false}, "axis": null},
            "y": {"field": "v", "type": "quantitative", "scale": {"domain": [-9.4, 105.1], "nice": false, "zero": false}},
            "text": {"field": "t"}
          }
        },
        {
          "data": {"name": "tagsStoch"},
          "transform": [{"filter": "datum.k == 'b'"}],
          "mark": {"type": "bar", "height": 12, "color": "#0000ff"},
          "encoding": {
            "x": {"datum": 300.56, "type": "quantitative", "scale": {"domain": [-0.5, 300.56], "nice": false, "zero": false}, "axis": null},
            "x2": {"datum": 310.95},
            "y": {"field": "v", "type": "quantitative", "scale": {"domain": [-9.4, 105.1], "nice": false, "zero": false}}
          }
        },
        {
          "data": {"name": "tagsStoch"},
          "transform": [{"filter": "datum.k == 'b'"}],
          "mark": {"type": "text", "align": "left", "baseline": "middle", "fontSize": 8.5, "color": "#ffffff"},
          "encoding": {
            "x": {"datum": 303.3, "type": "quantitative", "scale": {"domain": [-0.5, 300.56], "nice": false, "zero": false}, "axis": null},
            "y": {"field": "v", "type": "quantitative", "scale": {"domain": [-9.4, 105.1], "nice": false, "zero": false}},
            "text": {"field": "t"}
          }
        },
        {
          "data": {"name": "timeLabels"},
          "mark": {"type": "rule", "color": "#000000", "strokeWidth": 1},
          "encoding": {
            "x": {"field": "i", "type": "quantitative", "scale": {"domain": [-0.5, 300.56], "nice": false, "zero": false}, "axis": null},
            "y": {"datum": -9.4, "type": "quantitative", "scale": {"domain": [-9.4, 105.1], "nice": false, "zero": false}},
            "y2": {"datum": -22}
          }
        },
        {
          "data": {"name": "timeLabels"},
          "mark": {"type": "text", "align": "left", "baseline": "middle", "fontSize": 9, "color": "#000000", "dx": 1.5},
          "encoding": {
            "x": {"field": "i", "type": "quantitative", "scale": {"domain": [-0.5, 300.56], "nice": false, "zero": false}, "axis": null},
            "y": {"datum": -5.3, "type": "quantitative", "scale": {"domain": [-9.4, 105.1], "nice": false, "zero": false}},
            "text": {"field": "d"}
          }
        },
        {
          "data": {"name": "timeLabels"},
          "transform": [{"filter": "datum.t == '8:00 am'"}],
          "mark": {"type": "text", "align": "left", "baseline": "middle", "fontSize": 10, "color": "#000000", "dx": 1},
          "encoding": {
            "x": {"field": "i", "type": "quantitative", "scale": {"domain": [-0.5, 300.56], "nice": false, "zero": false}, "axis": null},
            "y": {"datum": -17.5, "type": "quantitative", "scale": {"domain": [-9.4, 105.1], "nice": false, "zero": false}},
            "text": {"field": "t"}
          }
        },
        {
          "data": {"name": "timeLabels"},
          "transform": [{"filter": "datum.t == '4:00 am'"}],
          "mark": {"type": "text", "align": "left", "baseline": "middle", "fontSize": 10, "color": "#000000", "dx": 1, "limit": 28, "ellipsis": "\u200b"},
          "encoding": {
            "x": {"field": "i", "type": "quantitative", "scale": {"domain": [-0.5, 300.56], "nice": false, "zero": false}, "axis": null},
            "y": {"datum": -17.5, "type": "quantitative", "scale": {"domain": [-9.4, 105.1], "nice": false, "zero": false}},
            "text": {"field": "t"}
          }
        }
      ]
    }
  ]
}
